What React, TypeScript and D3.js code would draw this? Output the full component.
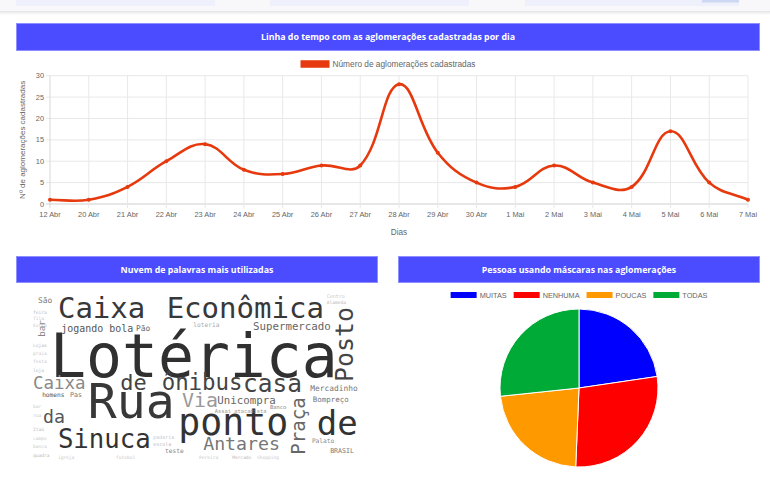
import React from "react";
import * as d3 from "d3";

// ---------- DATA ----------
const days = ["12 Abr","20 Abr","21 Abr","22 Abr","23 Abr","24 Abr","25 Abr","26 Abr","27 Abr","28 Abr","29 Abr","30 Abr","1 Mai","2 Mai","3 Mai","4 Mai","5 Mai","6 Mai","7 Mai"];
const counts = [1,1,4,10,14,8,7,9,9,28,12,5,4,9,5,4,17,5,1];
const yTicks = [0,5,10,15,20,25,30];
const lineSeriesName = "Número de aglomerações cadastradas";

const maskLabels = ["MUITAS","NENHUMA","POUCAS","TODAS"];
const maskValues = [17,21,17,20];

// word cloud: words and their weights (font size in cloud units)
const cloudWords = ["Lotérica","Caixa","Econômica","Posto","Caixa","de","ônibus","casa","Rua","Via","Unicompra","Praça","ponto","de","da","Sinuca","Antares","jogando bola","Pão","Supermercado","loteria","São","bar","homens","Pas","Mercadinho","Bompreço","Banco","Assai atacadista","BRASIL","teste","Palato"];
const cloudWeights = [72,35,35,30,21,26.5,27,29.5,58,24,13,23,44,41,22,31,22,12,9.5,13,7.5,9.5,11,7.5,8,9.5,9,6.5,6.5,8,7.5,7.5];
const fillerWords = ["feira","fila","Extra","Lojas","praia","festa","loja","bar","rua","Itaú","campo","banca","quadra","igreja","Centro","Alameda","futebol","Pereira","Mercado","Shopping","padaria","escola"];

// ---------- LAYOUT / STYLE (not data) ----------
const cloudLayout: [number, number, number, string][] = [
  [20.5,102.4,0,"#303030"],[30,31.3,0,"#383838"],[161,31.3,0,"#383838"],[385,108.4,-90,"#444"],
  [0,117,0,"#8a8a8a"],[105,118,0,"#444"],[155,118,0,"#444"],[253,120.5,0,"#444"],
  [66,152,0,"#383838"],[179.5,138.5,0,"#999"],[222,135,0,"#666"],[328,196,-90,"#666"],
  [175,172,0,"#333"],[342,172,0,"#333"],[12,158,0,"#555"],[30,188,0,"#333"],
  [205,190,0,"#777"],[34,48,0,"#555"],[124,47,0,"#666"],[265,46,0,"#666"],
  [193,42,0,"#aaa"],[6,13,0,"#777"],[14,54,-90,"#888"],[11,126.5,0,"#555"],
  [44.5,126.5,0,"#777"],[334,119,0,"#777"],[337,132.5,0,"#777"],[285.5,141,0,"#888"],
  [219,146,0,"#999"],[358,194,0,"#777"],[159,194,0,"#888"],[336,182,0,"#888"],
];
const fillerLayout: [number, number, number, number][] = [
  [0,26,5.5,0],[0,34,5.5,0],[0,42,5.5,0],[0,66,5.5,0],[0,76,5.5,0],[0,86,5.5,0],[0,96,5.5,0],
  [0,140,5.5,0],[0,150,5.5,0],[0,168,5.5,0],[0,178,5.5,0],[0,188,5.5,0],[0,199,5.5,0],[30,201,5.5,0],
  [354,7,6,0],[354,15,5.5,0],[100,201,5.5,0],[200,201,5.5,0],[240,201,5.5,0],[270,201,5.5,0],
  [145,177,6,0],[145,185,6,0],
];

const W = 770, H = 480;
const LINE_COLOR = "#e6390d";
const pieColors = ["#0000ff","#ff0000","#ff9900","#00aa36"];
const TITLE_BG = "#4b4bff";
const CHART_FONT = "'Liberation Sans', Arial, sans-serif";

let _ctx: CanvasRenderingContext2D | null = null;
function measure(text: string, font: string) {
  if (typeof document === "undefined") return text.length * 5;
  if (!_ctx) _ctx = document.createElement("canvas").getContext("2d");
  _ctx!.font = font;
  return _ctx!.measureText(text).width;
}

type P = { x: number; y: number };
function splinePath(pts: P[], tension: number, area: { l: number; r: number; t: number; b: number }) {
  const ctrl = pts.map((cur, i) => {
    const prev = pts[Math.max(0, i - 1)];
    const next = pts[Math.min(pts.length - 1, i + 1)];
    const d01 = Math.hypot(cur.x - prev.x, cur.y - prev.y);
    const d12 = Math.hypot(next.x - cur.x, next.y - cur.y);
    let s01 = d01 / (d01 + d12), s12 = d12 / (d01 + d12);
    if (!isFinite(s01)) s01 = 0;
    if (!isFinite(s12)) s12 = 0;
    const fa = tension * s01, fb = tension * s12;
    const cap = (p: P) => ({ x: Math.max(area.l, Math.min(area.r, p.x)), y: Math.max(area.t, Math.min(area.b, p.y)) });
    return {
      prev: cap({ x: cur.x - fa * (next.x - prev.x), y: cur.y - fa * (next.y - prev.y) }),
      next: cap({ x: cur.x + fb * (next.x - prev.x), y: cur.y + fb * (next.y - prev.y) }),
    };
  });
  const path = d3.path();
  pts.forEach((p, i) => {
    if (i === 0) path.moveTo(p.x, p.y);
    else path.bezierCurveTo(ctrl[i - 1].next.x, ctrl[i - 1].next.y, ctrl[i].prev.x, ctrl[i].prev.y, p.x, p.y);
  });
  return path.toString();
}

function TitleBar({ x, y, w, h, text }: { x: number; y: number; w: number; h: number; text: string }) {
  return (
    <g>
      <rect x={x + 0.5} y={y + 0.5} width={w - 1} height={h - 1} fill={TITLE_BG} stroke="#8f8fff" strokeWidth={1} />
      <text x={x + w / 2} y={y + h / 2 + 3} textAnchor="middle" fill="#fff" fontFamily="'Open Sans', sans-serif" fontWeight={700} fontSize={8.8}>{text}</text>
    </g>
  );
}

function Legend({ cx, y, items, colors, fontSize, boxW, boxH, gap, spacing }: any) {
  const font = `${fontSize}px ${CHART_FONT}`;
  const widths = items.map((t: string) => boxW + gap + measure(t, font));
  const total = d3.sum(widths) + spacing * (items.length - 1);
  let cur = cx - total / 2;
  return (
    <g>
      {items.map((t: string, i: number) => {
        const x0 = cur;
        cur += widths[i] + spacing;
        return (
          <g key={i}>
            <rect x={x0} y={y - boxH / 2} width={boxW} height={boxH} fill={colors[i]} />
            <text x={x0 + boxW + gap} y={y + fontSize * 0.36} fontSize={fontSize} fontFamily={CHART_FONT} fill="#666">{t}</text>
          </g>
        );
      })}
    </g>
  );
}

export default function App() {
  // line chart
  const area = { l: 50, r: 748, t: 75.7, b: 204 };
  const x = d3.scalePoint<string>().domain(days).range([area.l, area.r]);
  const y = d3.scaleLinear().domain([0, 30]).range([area.b, area.t]);
  const pts = counts.map((c, i) => ({ x: x(days[i])!, y: y(c) }));
  const linePath = splinePath(pts, 0.4, area);

  // pie
  const pieCx = 579, pieCy = 388, pieR = 79;
  const arcs = d3.pie<number>().sort(null).value((d) => d)(maskValues);
  const arcGen = d3.arc<d3.PieArcDatum<number>>().innerRadius(0).outerRadius(pieR);

  // cloud
  const cu = d3.scaleLinear().domain([0, 400]).range([33, 365]);
  const cv = d3.scaleLinear().domain([0, 200]).range([292, 458]);
  const cs = d3.scaleLinear().domain([0, 400]).range([0, 332]);
  const CLOUD_FONT = "'DejaVu Sans Mono', monospace";

  return (
    <div style={{ position: "absolute", left: 0, top: 0, width: W, height: H, background: "#fff" }}>
      <svg width={W} height={H} viewBox={`0 0 ${W} ${H}`} style={{ display: "block" }}>
        <defs>
          <linearGradient id="shadow" x1="0" y1="0" x2="0" y2="1">
            <stop offset="0" stopColor="#e4e4e4" />
            <stop offset="1" stopColor="#ffffff" />
          </linearGradient>
        </defs>
        <rect width={W} height={H} fill="#fff" />
        {/* navbar remnant */}
        <rect x={0} y={0} width={W} height={11} fill="#f8f8fa" />
        <rect x={0} y={11} width={W} height={4} fill="url(#shadow)" />
        <rect x={16} y={0} width={199} height={6} fill="#eef0fb" />
        <rect x={270} y={0} width={199} height={6} fill="#eef0fb" />
        <rect x={525} y={0} width={214} height={6} fill="#eef0fb" />
        <rect x={702} y={0} width={37} height={2.5} fill="#cfd8f3" />

        {/* ---- line chart ---- */}
        <TitleBar x={16} y={23} w={744} h={28} text="Linha do tempo com as aglomerações cadastradas por dia" />
        <Legend cx={388} y={64} items={[lineSeriesName]} colors={[LINE_COLOR]} fontSize={8.3} boxW={29} boxH={7.5} gap={3} spacing={8} />
        <g>
          {yTicks.map((t) => (
            <g key={t}>
              <line x1={area.l - 4} x2={area.r} y1={y(t)} y2={y(t)} stroke={t === 0 ? "#cfcfcf" : "#e8e8e8"} strokeWidth={1} />
              <text x={area.l - 6} y={y(t) + 2.6} textAnchor="end" fontSize={7.4} fontFamily={CHART_FONT} fill="#666">{t}</text>
            </g>
          ))}
          {days.map((d, i) => (
            <g key={d}>
              <line x1={x(d)} x2={x(d)} y1={area.t} y2={area.b + 4} stroke={i === 0 ? "#d8d8d8" : "#e8e8e8"} strokeWidth={1} />
              <text x={x(d)} y={area.b + 12.5} textAnchor="middle" fontSize={7.4} fontFamily={CHART_FONT} fill="#666">{d}</text>
            </g>
          ))}
          <text x={(area.l + area.r) / 2} y={235} textAnchor="middle" fontSize={8.2} fontFamily={CHART_FONT} fill="#666">Dias</text>
          <text transform={`translate(25, ${(area.t + area.b) / 2}) rotate(-90)`} textAnchor="middle" fontSize={8} fontFamily={CHART_FONT} fill="#666">Nº de aglomerações cadastradas</text>
          <path d={linePath} fill="none" stroke={LINE_COLOR} strokeWidth={2.6} strokeLinejoin="round" />
          {pts.map((p, i) => (
            <circle key={i} cx={p.x} cy={p.y} r={2} fill={LINE_COLOR} />
          ))}
        </g>

        {/* ---- word cloud ---- */}
        <TitleBar x={16} y={256} w={362} h={27} text="Nuvem de palavras mais utilizadas" />
        <g fontFamily={CLOUD_FONT}>
          {fillerWords.map((wd, i) => {
            const L = fillerLayout[i];
            if (!L) return null;
            const [u, v, s, r] = L;
            const px = cu(u), py = cv(v);
            return (
              <text key={"f" + i} x={px} y={py} fontSize={cs(s)} fill={i % 3 === 0 ? "#b8b8b8" : "#c9c9c9"} transform={r ? `rotate(${r},${px},${py})` : undefined}>{wd}</text>
            );
          })}
          {cloudWords.map((wd, i) => {
            const [u, v, r, col] = cloudLayout[i];
            const px = cu(u), py = cv(v);
            return (
              <text key={"w" + i} x={px} y={py} fontSize={cs(cloudWeights[i])} fill={col} transform={r ? `rotate(${r},${px},${py})` : undefined}>{wd}</text>
            );
          })}
        </g>

        {/* ---- pie ---- */}
        <TitleBar x={398} y={256} w={362} h={27} text="Pessoas usando máscaras nas aglomerações" />
        <Legend cx={579} y={295} items={maskLabels} colors={pieColors} fontSize={7.3} boxW={26} boxH={6} gap={3} spacing={7} />
        <g transform={`translate(${pieCx},${pieCy})`}>
          {arcs.map((a, i) => (
            <path key={i} d={arcGen(a)!} fill={pieColors[i]} stroke="#fff" strokeWidth={1} />
          ))}
        </g>
      </svg>
    </div>
  );
}
